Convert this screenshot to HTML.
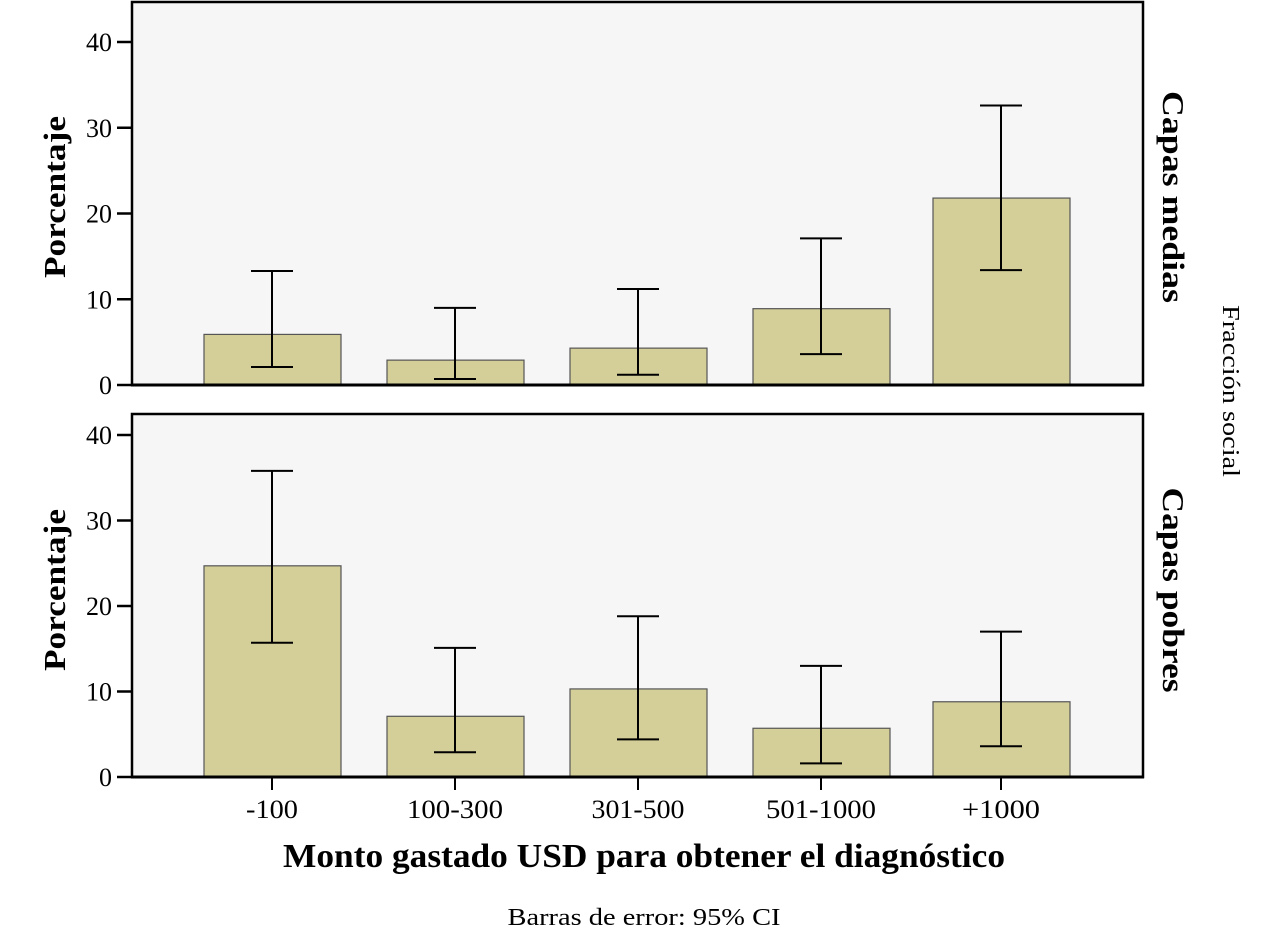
<!DOCTYPE html>
<html><head><meta charset="utf-8"><style>
body{margin:0;background:#fff}
svg text{font-family:"Liberation Serif",serif;fill:#000}
</style></head><body>
<svg width="1267" height="934" xmlns="http://www.w3.org/2000/svg" id="chart"></svg>
<script>
const categories=["-100","100-300","301-500","501-1000","+1000"];
const topValues=[5.9,2.9,4.3,8.9,21.8];
const topLow=[2.1,0.7,1.2,3.6,13.4];
const topHigh=[13.3,9.0,11.2,17.1,32.6];
const botValues=[24.7,7.1,10.3,5.7,8.8];
const botLow=[15.7,2.9,4.4,1.6,3.6];
const botHigh=[35.8,15.1,18.8,13.0,17.0];
const yTicks=[0,10,20,30,40];
const panelTitles=["Capas medias","Capas pobres"];

const svg=document.getElementById('chart');
const NS="http://www.w3.org/2000/svg";
function mk(tag,attrs,parent,text){const e=document.createElementNS(NS,tag);for(const k in attrs)e.setAttribute(k,attrs[k]);if(text!==undefined)e.textContent=text;(parent||svg).appendChild(e);return e;}
const centers=[272,455,638,821,1001];
const labelW=[52,96,93,110,78];
function xPos(i){return centers[i];}
const panels=[
 {top:2,zero:385,unit:8.575,vals:topValues,lo:topLow,hi:topHigh,title:panelTitles[0],ty:197,tl:212},
 {top:414,zero:777,unit:8.55,vals:botValues,lo:botLow,hi:botHigh,title:panelTitles[1],ty:590,tl:205}
];
panels.forEach((p,pi)=>{
 const y=v=>p.zero-v*p.unit;
 const g=mk('g',{});
 
 
 const bg=mk('rect',{x:132,y:p.top,width:1011,height:p.zero-p.top,fill:'#f6f6f6',stroke:'#000','stroke-width':2.5},g);
 
 
 yTicks.forEach(t=>{
  const l=mk('line',{x1:117,x2:132,y1:y(t),y2:y(t),stroke:'#000','stroke-width':2.5},g);
  
  
  const tx=mk('text',{x:112,y:y(t)+9,'text-anchor':'end','font-size':26},g,String(t));
  
  
 });
 p.vals.forEach((v,i)=>{
  const cx=xPos(i);
  const b=mk('rect',{x:cx-68,y:y(v),width:137,height:v*p.unit,fill:'#d4cf98',stroke:'#555','stroke-width':1.2},g);
  
  
  const eb=mk('path',{d:`M${cx} ${y(p.hi[i])}V${y(p.lo[i])}M${cx-21} ${y(p.hi[i])}H${cx+21}M${cx-21} ${y(p.lo[i])}H${cx+21}`,stroke:'#000','stroke-width':2,fill:'none'},g);
  
  
 });
 const ax=mk('line',{x1:131,x2:1144,y1:p.zero,y2:p.zero,stroke:'#000','stroke-width':3},g);
 
 
 const yl=mk('text',{x:0,y:0,transform:`translate(65 ${p.ty}) rotate(-90)`,'text-anchor':'middle','font-size':31,'font-weight':'bold',textLength:162,lengthAdjust:'spacingAndGlyphs'},g,'Porcentaje');
 
 
 const pt=mk('text',{x:0,y:0,transform:`translate(1163 ${p.ty}) rotate(90)`,'text-anchor':'middle','font-size':31,'font-weight':'bold',textLength:p.tl,lengthAdjust:'spacingAndGlyphs'},g,p.title);
 
 
});
categories.forEach((c,i)=>{
 const l=mk('line',{x1:xPos(i),x2:xPos(i),y1:777,y2:790,stroke:'#000','stroke-width':2});
 
 
 const t=mk('text',{x:xPos(i),y:818,'text-anchor':'middle','font-size':26,textLength:labelW[i],lengthAdjust:'spacingAndGlyphs'},undefined,c);
 
 
});
const xt=mk('text',{x:644,y:867,'text-anchor':'middle','font-size':34,'font-weight':'bold',textLength:722,lengthAdjust:'spacingAndGlyphs'},undefined,'Monto gastado USD para obtener el diagnóstico');


const ft=mk('text',{x:0,y:0,transform:'translate(1223 391) rotate(90)','text-anchor':'middle','font-size':24,textLength:172,lengthAdjust:'spacingAndGlyphs'},undefined,'Fracción social');


const note=mk('text',{x:644,y:925,'text-anchor':'middle','font-size':24,textLength:273,lengthAdjust:'spacingAndGlyphs'},undefined,'Barras de error: 95% CI');


</script>
</body></html>
